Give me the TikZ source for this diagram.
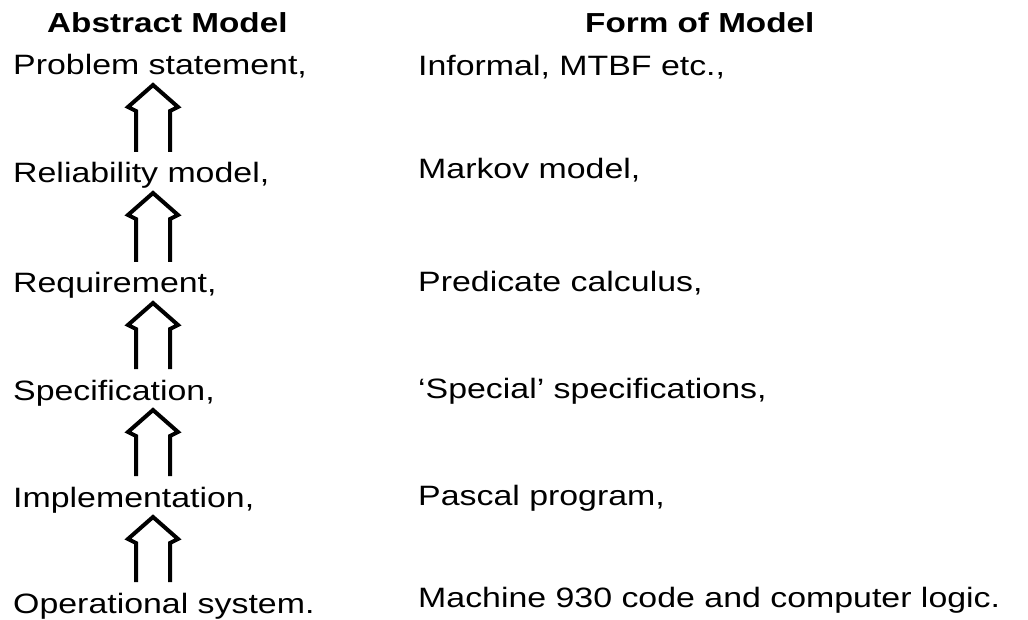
\documentclass[tikz,border=0pt]{standalone}
\usepackage{fontspec}
\setmainfont{Liberation Sans}[FakeStretch=1.21]
\usetikzlibrary{calc}

% hollow upward arrow from the lower node (#1) to the upper node (#2)
\newcommand\liftarrow[2]{%
  \coordinate (top) at ($(ax |- #2.base)+(0,10)$);
  \coordinate (bot) at ($(ax |- #1.base)+(0,-31)$);
  \draw[liftline] ($(bot)+(-17,0)$) -- ($(top)+(-17,26)$) -- ($(top)+(-25,22)$)
    -- (top) -- ($(top)+(25,22)$) -- ($(top)+(17,26)$) -- ($(bot)+(17,0)$);}

\begin{document}
\begin{tikzpicture}[x=1pt,y=-1pt,
  every node/.style={inner sep=0pt,anchor=base west,font=\fontsize{28}{32}\selectfont},
  head/.style={font=\fontsize{27.5}{32}\selectfont\bfseries},
  liftline/.style={line width=4pt,line join=miter}]
\useasboundingbox (0,0) rectangle (1028,620);
\coordinate (ax) at (153,0);
% headings
\node[head] (abs) at (47,33) {Abstract Model};
\node[head] (form) at (585,33) {Form of Model};
% abstract models
\node (p1) at (13,75) {Problem statement,};
\node (p2) at (13,183) {Reliability model,};
\node (p3) at (13,293) {Requirement,};
\node (p4) at (13,400) {Specification,};
\node (p5) at (13,507) {Implementation,};
\node (p6) at (13,613) {Operational system.};
% forms of model
\node (f1) at (418,76) {Informal, MTBF etc.,};
\node (f2) at (418,179) {Markov model,};
\node (f3) at (418,291) {Predicate calculus,};
\node (f4) at (418,398) {`Special' specifications,};
\node (f5) at (418,505) {Pascal program,};
\node (f6) at (418,607) {Machine 930 code and computer logic.};
% arrows
\liftarrow{p2}{p1}
\liftarrow{p3}{p2}
\liftarrow{p4}{p3}
\liftarrow{p5}{p4}
\liftarrow{p6}{p5}
\end{tikzpicture}
\end{document}
